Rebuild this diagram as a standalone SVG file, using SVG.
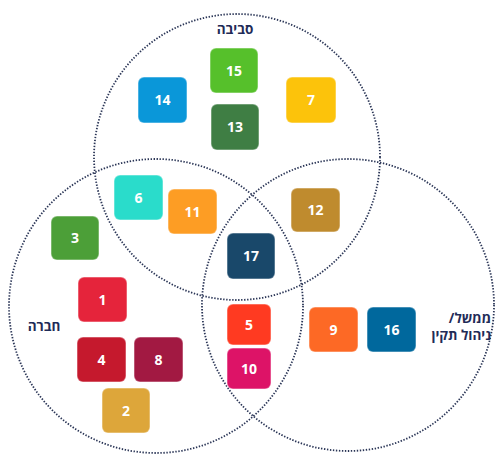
<svg xmlns="http://www.w3.org/2000/svg" width="495" height="461" viewBox="0 0 495 461">
<style>
.c{fill:none;stroke:#2a3556;stroke-width:1.8;stroke-dasharray:1.4 1.6}
.b{stroke-width:1.5;stroke-opacity:0.35;stroke:#ffffff}
.n{font-family:"Open Sans","DejaVu Sans",sans-serif;font-weight:bold;font-size:14px;fill:#ffffff;text-anchor:middle}
.l{font-family:"Open Sans","DejaVu Sans",sans-serif;font-weight:bold;font-size:13.5px;fill:#1f2b57}
</style>
<rect width="495" height="461" fill="#ffffff"/>
<g id="circles">
<circle class="c" cx="237" cy="157" r="143"/>
<circle class="c" cx="156" cy="306" r="147"/>
<circle class="c" cx="348" cy="305" r="146"/>
</g>
<g id="labels">
<text class="l" x="235" y="34" text-anchor="middle">סביבה</text>
<text class="l" x="44" y="331" text-anchor="middle">חברה</text>
<text class="l" x="491" y="323" text-anchor="end">ממשל/&#x200F;</text>
<text class="l" x="491" y="340" text-anchor="end">ניהול תקין</text>
</g>
<g id="n15"><rect class="b" x="210" y="48" width="48" height="45" rx="6" fill="#56c02b"/><text class="n" x="234" y="75.5">15</text></g>
<g id="n14"><rect class="b" x="138" y="77" width="49" height="46" rx="6" fill="#0a97d9"/><text class="n" x="162.5" y="105">14</text></g>
<g id="n7"><rect class="b" x="286" y="77" width="50" height="46" rx="6" fill="#fcc30b"/><text class="n" x="311" y="105">7</text></g>
<g id="n13"><rect class="b" x="211" y="104" width="48" height="46" rx="6" fill="#3f7e44"/><text class="n" x="235" y="132">13</text></g>
<g id="n6"><rect class="b" x="114" y="175" width="49" height="45" rx="6" fill="#2adccb"/><text class="n" x="138.5" y="202.5">6</text></g>
<g id="n11"><rect class="b" x="168" y="189" width="49" height="45" rx="6" fill="#fd9d24"/><text class="n" x="192.5" y="216.5">11</text></g>
<g id="n3"><rect class="b" x="51" y="216" width="48" height="44" rx="6" fill="#4c9f38"/><text class="n" x="75" y="243">3</text></g>
<g id="n12"><rect class="b" x="291" y="188" width="49" height="44" rx="6" fill="#bf8b2e"/><text class="n" x="315.5" y="215">12</text></g>
<g id="n17"><rect class="b" x="227" y="233" width="48" height="46" rx="6" fill="#19486a"/><text class="n" x="251" y="261">17</text></g>
<g id="n1"><rect class="b" x="78" y="277" width="49" height="45" rx="6" fill="#e5243b"/><text class="n" x="102.5" y="304.5">1</text></g>
<g id="n4"><rect class="b" x="77" y="337" width="49" height="45" rx="6" fill="#c5192d"/><text class="n" x="101.5" y="364.5">4</text></g>
<g id="n8"><rect class="b" x="134" y="337" width="49" height="45" rx="6" fill="#a21942"/><text class="n" x="158.5" y="364.5">8</text></g>
<g id="n2"><rect class="b" x="102" y="388" width="48" height="45" rx="6" fill="#dda63a"/><text class="n" x="126" y="415.5">2</text></g>
<g id="n5"><rect class="b" x="227" y="304" width="44" height="41" rx="6" fill="#ff3a21"/><text class="n" x="249" y="329.5">5</text></g>
<g id="n10"><rect class="b" x="227" y="348" width="44" height="41" rx="6" fill="#dd1367"/><text class="n" x="249" y="373.5">10</text></g>
<g id="n9"><rect class="b" x="309" y="307" width="49" height="45" rx="6" fill="#fd6925"/><text class="n" x="333.5" y="334.5">9</text></g>
<g id="n16"><rect class="b" x="367" y="307" width="49" height="45" rx="6" fill="#00689d"/><text class="n" x="391.5" y="334.5">16</text></g>
</svg>
